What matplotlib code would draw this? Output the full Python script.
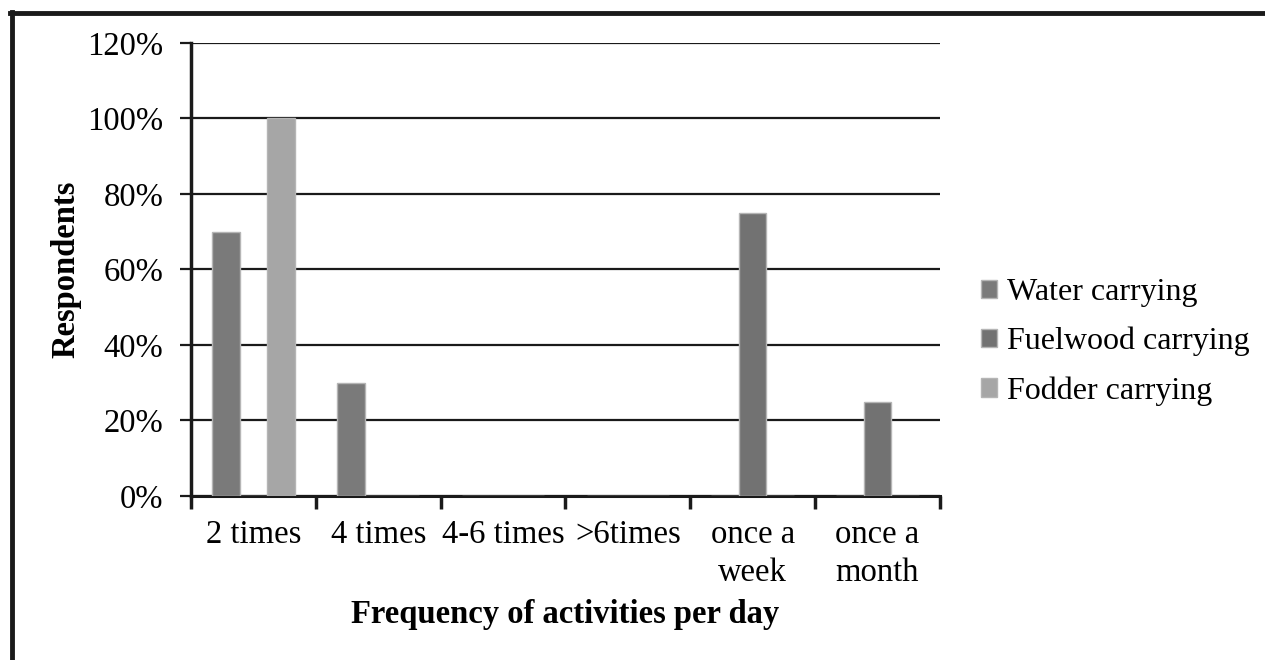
import numpy as np
import matplotlib
matplotlib.use("Agg")
import matplotlib.pyplot as plt
from matplotlib.lines import Line2D

# Data
categories = ['2 times', '4 times', '4-6 times', '>6times', 'once a\nweek', 'once a\nmonth']
water = [70, 30, 0, 0, 0, 0]
fuelwood = [0, 0, 0, 0, 75, 25]
fodder = [100, 0, 0, 0, 0, 0]
series_names = ['Water carrying', 'Fuelwood carrying', 'Fodder carrying']
series_colors = ['#7a7a7a', '#727272', '#a6a6a6']
y_ticks = [0, 20, 40, 60, 80, 100, 120]

plt.rcParams['font.family'] = ['Liberation Serif', 'DejaVu Serif']
fs = 23.5

fig = plt.figure(figsize=(12.65, 6.6), dpi=100)
ax = fig.add_axes([0.151, 0.2485, 0.592, 0.6865])

x = np.arange(len(categories)) + 0.5
w = 0.22
for i, (vals, name, col) in enumerate(zip([water, fuelwood, fodder], series_names, series_colors)):
    ax.bar(x + (i - 1) * w, vals, width=w, color=col, edgecolor='#b5b5b5',
           linewidth=1, label=name, zorder=3)

ax.set_xlim(0, len(categories))
ax.set_ylim(0, 120)
ax.set_yticks(y_ticks)
ax.set_yticklabels([f'{v}%' for v in y_ticks], fontsize=fs)
ax.yaxis.grid(True, color='#1a1a1a', linewidth=1.6, zorder=0)
ax.set_axisbelow(True)

# ticks on category boundaries, labels at centres
ax.set_xticks(np.arange(len(categories) + 1))
ax.set_xticklabels([])
ax.set_xticks(x, minor=True)
ax.set_xticklabels(categories, minor=True, fontsize=fs, linespacing=1.3)
ax.tick_params(axis='x', which='minor', length=0, pad=17)
ax.tick_params(axis='x', which='major', length=9, width=2.5, color='#1a1a1a')
ax.tick_params(axis='y', length=8, width=1.6, color='#1a1a1a', pad=12)

for s in ['top', 'right']:
    ax.spines[s].set_visible(False)
ax.spines['left'].set_linewidth(2.5)
ax.spines['left'].set_color('#1a1a1a')
ax.spines['bottom'].set_linewidth(2.2)
ax.spines['bottom'].set_color('#1a1a1a')

ax.set_xlabel('Frequency of activities per day', fontsize=fs, fontweight='bold', labelpad=8)
ax.set_ylabel('Respondents', fontsize=fs, fontweight='bold', labelpad=4)

leg = ax.legend(loc='center left', bbox_to_anchor=(1.017, 0.34), frameon=False,
                fontsize=23, handlelength=0.5, handleheight=0.5, handletextpad=0.3,
                labelspacing=0.62)

# frame lines at top and left of the picture
fig.add_artist(Line2D([0.008, 1.0], [0.98, 0.98], color='#1a1a1a', linewidth=3.5))
fig.add_artist(Line2D([0.0098, 0.0098], [0.0, 0.9825], color='#1a1a1a', linewidth=3.5))

fig.savefig('out.png', dpi=100)
